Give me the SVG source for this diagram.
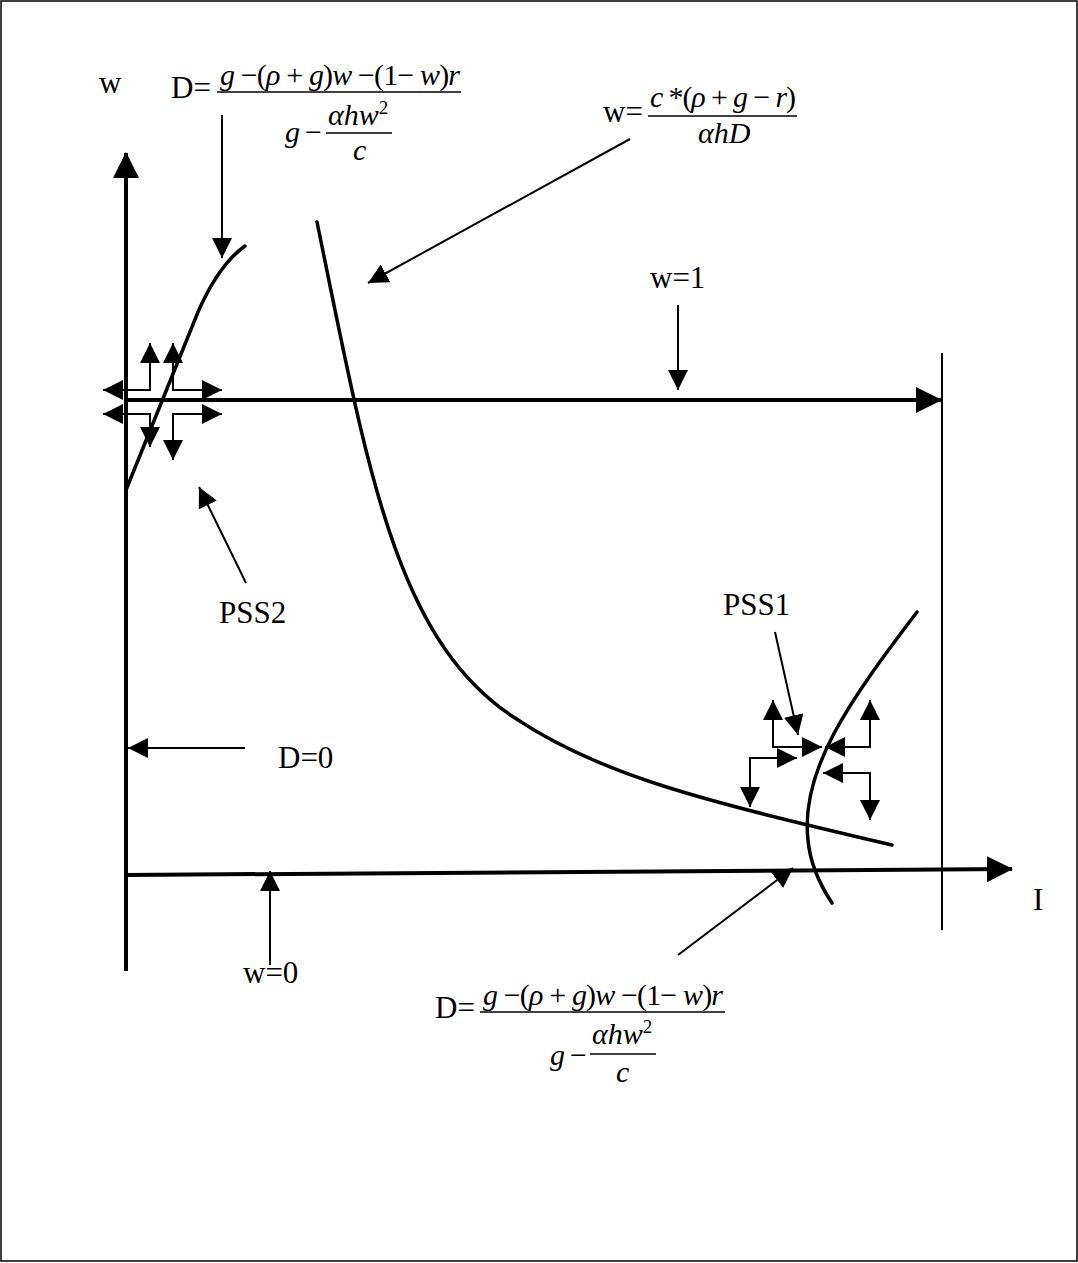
<svg xmlns="http://www.w3.org/2000/svg" width="1078" height="1263" viewBox="0 0 1078 1263">
<style>
.lbl{font-family:"Liberation Serif","Times New Roman",serif;font-size:31px;fill:#000}
.fm{font-family:"Liberation Serif","Times New Roman",serif;font-size:30px;fill:#000}
.i{font-style:italic}
.sup{font-size:19px;font-style:normal}
.ax{stroke:#000;stroke-width:4;fill:none}
.cv{stroke:#000;stroke-width:3.5;fill:none;stroke-linecap:round}
.th{stroke:#000;stroke-width:2;fill:none}
.fl{stroke:#000;stroke-width:1.5}
</style>
<defs>
<marker id="ah" markerUnits="userSpaceOnUse" markerWidth="20" markerHeight="20" refX="20" refY="10" orient="auto-start-reverse" viewBox="0 0 20 20">
<path d="M0,0 L20,10 L0,20 z" fill="#000"/>
</marker>
<marker id="bh" markerUnits="userSpaceOnUse" markerWidth="26" markerHeight="26" refX="25" refY="13" orient="auto" viewBox="0 0 26 26">
<path d="M0,0 L26,13 L0,26 z" fill="#000"/>
</marker>
</defs>
<rect x="1" y="1" width="1076" height="1260" fill="#fff" stroke="#000" stroke-width="1.5"/>

<g id="axes">
<line class="ax" x1="126" y1="971" x2="126" y2="153" marker-end="url(#bh)"/>
<line class="ax" x1="126" y1="875" x2="1012" y2="869" marker-end="url(#bh)"/>
<line class="ax" x1="126" y1="400" x2="941" y2="400" marker-end="url(#bh)"/>
<line x1="942" y1="353" x2="942" y2="930" stroke="#000" stroke-width="2"/>
</g>

<g id="curves">
<path id="curve-left" class="cv" d="M126,490 L198,312 C212,280 228,258 245,246"/>
<path id="curve-hyper" class="cv" d="M317,222 C368,470 395,640 515,718 C600,775 700,800 892,845"/>
<path id="curve-right" class="cv" d="M917,612 C850,700 800,770 808,840 C810,862 820,885 832,903"/>
</g>

<g id="connectors">
<line class="th" x1="222" y1="115" x2="222" y2="258" marker-end="url(#ah)"/>
<line class="th" x1="630" y1="139" x2="368" y2="283" marker-end="url(#ah)"/>
<line class="th" x1="678" y1="305" x2="678" y2="390" marker-end="url(#ah)"/>
<line class="th" x1="246" y1="583" x2="199" y2="487" marker-end="url(#ah)"/>
<line class="th" x1="245" y1="748" x2="128" y2="748" marker-end="url(#ah)"/>
<line class="th" x1="270" y1="965" x2="270" y2="871" marker-end="url(#ah)"/>
<line class="th" x1="775" y1="632" x2="798" y2="735" marker-end="url(#ah)"/>
<line class="th" x1="678" y1="955" x2="793" y2="868" marker-end="url(#ah)"/>
</g>

<g id="pss2-arrows">
<polyline class="th" points="150,343 150,390 103,390" marker-start="url(#ah)" marker-end="url(#ah)"/>
<polyline class="th" points="173,343 173,390 222,390" marker-start="url(#ah)" marker-end="url(#ah)"/>
<polyline class="th" points="103,414 150,414 150,447" marker-start="url(#ah)" marker-end="url(#ah)"/>
<polyline class="th" points="222,414 173,414 173,460" marker-start="url(#ah)" marker-end="url(#ah)"/>
</g>

<g id="pss1-arrows">
<polyline class="th" points="773,700 773,747 822,747" marker-start="url(#ah)" marker-end="url(#ah)"/>
<polyline class="th" points="870,700 870,747 825,747" marker-start="url(#ah)" marker-end="url(#ah)"/>
<polyline class="th" points="797,758 750,758 750,807" marker-start="url(#ah)" marker-end="url(#ah)"/>
<polyline class="th" points="823,773 870,773 870,820" marker-start="url(#ah)" marker-end="url(#ah)"/>
</g>

<g id="label-w">
<text class="lbl" x="99" y="93">w</text>
</g>
<g id="label-I">
<text class="lbl" x="1033" y="910">I</text>
</g>
<g id="label-w1">
<text class="lbl" x="650" y="288">w=1</text>
</g>
<g id="label-w0">
<text class="lbl" x="243" y="983">w=0</text>
</g>
<g id="label-D0">
<text class="lbl" x="278" y="768">D=0</text>
</g>
<g id="label-PSS2">
<text class="lbl" x="219" y="623">PSS2</text>
</g>
<g id="label-PSS1">
<text class="lbl" x="723" y="615">PSS1</text>
</g>

<g id="formula-D-top">
<text class="lbl" x="171" y="98">D=</text>
<text class="fm" x="220" y="85" textLength="240" lengthAdjust="spacing"><tspan class="i">g</tspan> −(<tspan class="i">ρ</tspan> + <tspan class="i">g</tspan>)<tspan class="i">w</tspan> −(1− <tspan class="i">w</tspan>)<tspan class="i">r</tspan></text>
<line class="fl" x1="217" y1="92" x2="461" y2="92"/>
<text class="fm i" x="285" y="142">g</text>
<text class="fm" x="305" y="142">−</text>
<line class="fl" x1="326" y1="133" x2="392" y2="133"/>
<text class="fm i" x="328" y="125">αhw<tspan class="sup" dy="-11">2</tspan></text>
<text class="fm i" x="353" y="160">c</text>
</g>

<g id="formula-w">
<text class="lbl" x="603" y="122">w=</text>
<text class="fm" x="650" y="107" textLength="146" lengthAdjust="spacing"><tspan class="i">c</tspan> *(<tspan class="i">ρ</tspan> + <tspan class="i">g</tspan> − <tspan class="i">r</tspan>)</text>
<line class="fl" x1="648" y1="116" x2="797" y2="116"/>
<text class="fm i" x="698" y="143">αhD</text>
</g>

<g id="formula-D-bottom">
<text class="lbl" x="435" y="1018">D=</text>
<text class="fm" x="483" y="1005" textLength="240" lengthAdjust="spacing"><tspan class="i">g</tspan> −(<tspan class="i">ρ</tspan> + <tspan class="i">g</tspan>)<tspan class="i">w</tspan> −(1− <tspan class="i">w</tspan>)<tspan class="i">r</tspan></text>
<line class="fl" x1="480" y1="1012" x2="725" y2="1012"/>
<text class="fm i" x="550" y="1065">g</text>
<text class="fm" x="570" y="1065">−</text>
<line class="fl" x1="590" y1="1054" x2="656" y2="1054"/>
<text class="fm i" x="592" y="1044">αhw<tspan class="sup" dy="-11">2</tspan></text>
<text class="fm i" x="616" y="1082">c</text>
</g>
</svg>
